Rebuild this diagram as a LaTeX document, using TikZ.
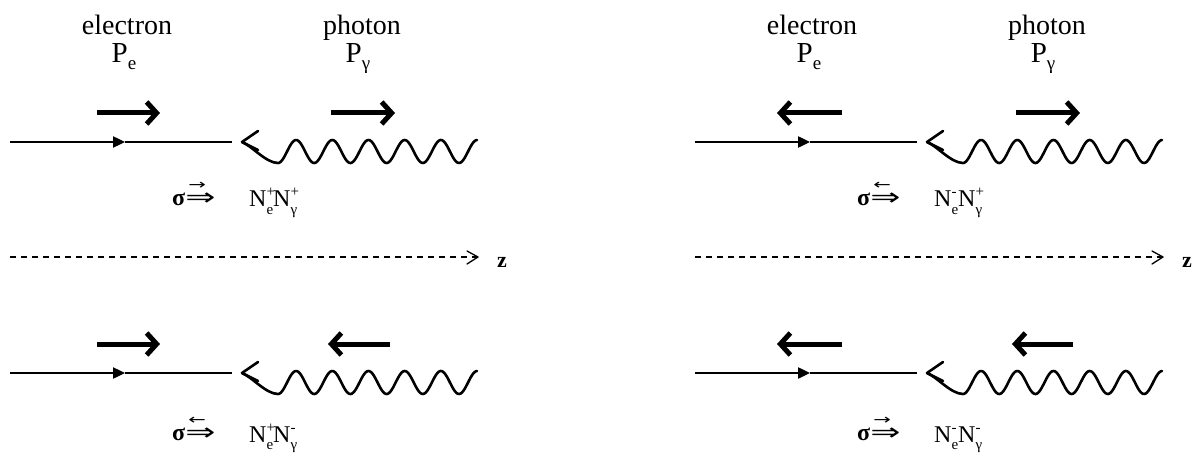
\documentclass[tikz,border=0pt]{standalone}
\usepackage{fontspec}
\setmainfont{Liberation Serif}
\newfontfamily\dejavu{DejaVu Sans}
\usetikzlibrary{arrows.meta}
\tikzset{
 x=1pt,y=-1pt,
 pol/.style={line width=5pt,-{Straight Barb[length=10pt,width=22pt]}},
 eline/.style={line width=2.4pt},
 midtri/.style={line width=2.4pt,-{Triangle[length=12pt,width=11pt]}},
 wave/.style={line width=2.6pt,line join=round,line cap=round},
 axis/.style={line width=1.3pt,dash pattern=on 6pt off 5pt},
 axtip/.style={line width=1.3pt,line cap=round},
 hdr/.style={inner sep=0pt,anchor=base,font=\fontsize{28}{32}\selectfont},
 psym/.style={inner sep=0pt,anchor=base,font=\fontsize{29}{32}\selectfont},
 lab/.style={inner sep=0pt,anchor=base west,font=\fontsize{24}{28}\selectfont},
 zlab/.style={inner sep=0pt,anchor=base west,font=\bfseries\fontsize{22}{26}\selectfont},
}
\newcommand\supsub[2]{\makebox[0pt][l]{\raisebox{10pt}{\fontsize{15}{15}\selectfont #1}}\raisebox{-7pt}{\fontsize{15}{15}\selectfont #2}}
\newcommand\sigarrow[1]{{\bfseries σ}\makebox[0pt][l]{\raisebox{16pt}{\kern3pt\scalebox{1.5}[1]{\fontsize{14}{14}\dejavu #1}}}\scalebox{1.5}[1]{\dejavu ⇒}}
% #1 prefix, #2 dx, #3 dy, #4 e-arrow from, #5 e-arrow to, #6 g-arrow from, #7 g-arrow to
\newcommand\Row[7]{%
\begin{scope}[shift={(#2,#3)}]
 \coordinate (#1pa) at (#4,113); \coordinate (#1pb) at (#5,113);
 \draw[pol] (#1pa) -- (#1pb);
 \coordinate (#1qa) at (#6,113); \coordinate (#1qb) at (#7,113);
 \draw[pol] (#1qa) -- (#1qb);
 \coordinate (#1ea) at (10,142); \coordinate (#1em) at (125,142); \coordinate (#1eb) at (232,142);
 \draw[midtri] (#1ea) -- (#1em);
 \draw[eline] (#1em) -- (#1eb);
 \coordinate (#1gt) at (242,142);
 \draw[wave] (#1gt) .. controls (252,146) and (266,163) .. (278,163)
   -- plot[domain=278:477,samples=160] (\x,{151.5+11.5*cos((\x-278)*9.945)});
 \draw[wave] (#1gt) -- ++(16,-11);
 \draw[wave] (#1gt) -- ++(16,8);
\end{scope}}
\begin{document}
\begin{tikzpicture}
\useasboundingbox (0,0) rectangle (1193,457);
% headers
\node[hdr] (el1) at (127,35) {electron};
\node[psym] (pe1) at (124,63) {P\raisebox{-7pt}{\fontsize{19}{19}\selectfont e}};
\node[hdr] (ph1) at (362,35) {photon};
\node[psym] (pg1) at (358,63) {P\raisebox{-7pt}{\fontsize{19}{19}\selectfont γ}};
\node[hdr] (el2) at (812,35) {electron};
\node[psym] (pe2) at (809,63) {P\raisebox{-7pt}{\fontsize{19}{19}\selectfont e}};
\node[hdr] (ph2) at (1047,35) {photon};
\node[psym] (pg2) at (1043,63) {P\raisebox{-7pt}{\fontsize{19}{19}\selectfont γ}};
% rows
\Row{a}{0}{0}{97}{160}{331}{395}
\Row{b}{685}{0}{157}{92}{331}{395}
\Row{c}{0}{231}{97}{160}{390}{328}
\Row{d}{685}{231}{157}{92}{388}{327}
% sigma labels
\node[lab] (sa) at (172,205) {\sigarrow{→}};
\node[lab] (na) at (249,207) {N\supsub{+}{e}N\supsub{+}{γ}};
\node[lab] (sb) at (857,205) {\sigarrow{←}};
\node[lab] (nb) at (934,207) {N\supsub{-}{e}N\supsub{+}{γ}};
\node[lab] (sc) at (172,440) {\sigarrow{←}};
\node[lab] (nc) at (249,442) {N\supsub{+}{e}N\supsub{-}{γ}};
\node[lab] (sd) at (857,440) {\sigarrow{→}};
\node[lab] (nd) at (934,442) {N\supsub{-}{e}N\supsub{-}{γ}};
% z axes
\coordinate (za1) at (10,257); \coordinate (zb1) at (478,257);
\draw[axis] (za1) -- (zb1);
\draw[axtip] (zb1) -- ++(-11,-6);
\draw[axtip] (zb1) -- ++(-11,7);
\node[zlab] (z1) at (497,267) {z};
\coordinate (za2) at (695,257); \coordinate (zb2) at (1163,257);
\draw[axis] (za2) -- (zb2);
\draw[axtip] (zb2) -- ++(-11,-6);
\draw[axtip] (zb2) -- ++(-11,7);
\node[zlab] (z2) at (1182,267) {z};
\end{tikzpicture}
\end{document}
